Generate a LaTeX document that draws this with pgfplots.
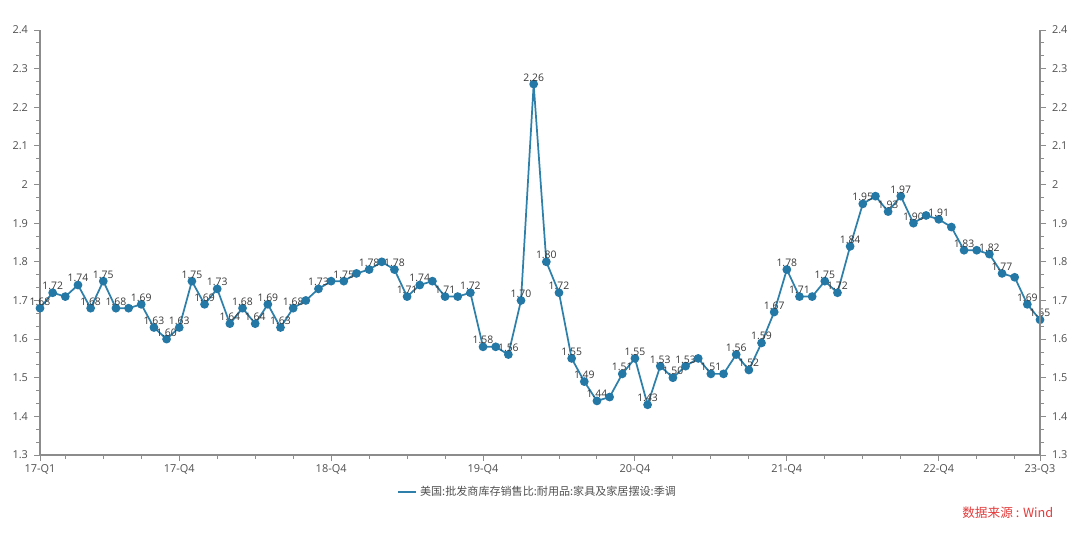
\documentclass[border=0pt]{standalone}
\usepackage{fontspec}
\setmainfont{Open Sans}
\newfontfamily\cjk{Noto Sans CJK SC}
\usepackage{pgfplots}
\usepackage{pgfplotstable}
\pgfplotsset{compat=1.18}

\definecolor{linec}{HTML}{2E80AB}
\definecolor{markc}{HTML}{2478A6}
\definecolor{axisc}{HTML}{8C8C8C}
\definecolor{tickc}{HTML}{505050}
\definecolor{labc}{HTML}{383838}
\definecolor{srcred}{HTML}{E23B3B}

% x = month index from 2017-01, lab = value label shown on the chart ({} = hidden)
\pgfplotstableread{
x y lab
0 1.68 1.68
1 1.72 1.72
2 1.71 {}
3 1.74 1.74
4 1.68 1.68
5 1.75 1.75
6 1.68 1.68
7 1.68 {}
8 1.69 1.69
9 1.63 1.63
10 1.60 1.60
11 1.63 1.63
12 1.75 1.75
13 1.69 1.69
14 1.73 1.73
15 1.64 1.64
16 1.68 1.68
17 1.64 1.64
18 1.69 1.69
19 1.63 1.63
20 1.68 1.68
21 1.70 {}
22 1.73 1.73
23 1.75 {}
24 1.75 1.75
25 1.77 {}
26 1.78 1.78
27 1.80 {}
28 1.78 1.78
29 1.71 1.71
30 1.74 1.74
31 1.75 {}
32 1.71 1.71
33 1.71 {}
34 1.72 1.72
35 1.58 1.58
36 1.58 {}
37 1.56 1.56
38 1.70 1.70
39 2.26 2.26
40 1.80 1.80
41 1.72 1.72
42 1.55 1.55
43 1.49 1.49
44 1.44 1.44
45 1.45 {}
46 1.51 1.51
47 1.55 1.55
48 1.43 1.43
49 1.53 1.53
50 1.50 1.50
51 1.53 1.53
52 1.55 {}
53 1.51 1.51
54 1.51 {}
55 1.56 1.56
56 1.52 1.52
57 1.59 1.59
58 1.67 1.67
59 1.78 1.78
60 1.71 1.71
61 1.71 {}
62 1.75 1.75
63 1.72 1.72
64 1.84 1.84
65 1.95 1.95
66 1.97 {}
67 1.93 1.93
68 1.97 1.97
69 1.90 1.90
70 1.92 {}
71 1.91 1.91
72 1.89 {}
73 1.83 1.83
74 1.83 {}
75 1.82 1.82
76 1.77 1.77
77 1.76 {}
78 1.69 1.69
79 1.65 1.65
}\ratio

\pgfplotsset{
  common/.style={
    at={(0,0)}, anchor=south west,
    scale only axis, width=750pt, height=318.75pt,
    xmin=0, xmax=79, ymin=1.3, ymax=2.4,
    ytick={1.3,1.4,1.5,1.6,1.7,1.8,1.9,2.0,2.1,2.2,2.3,2.4},
    minor y tick num=2,
    tick align=outside,
    major tick length=4.5pt, minor tick length=3pt,
    axis line style={axisc, line width=0.8pt},
    every tick/.style={axisc, line width=0.7pt},
    tick label style={font=\fontsize{8.2}{10}\selectfont, text=tickc},
    /pgf/number format/assume math mode=true,
    clip=false,
  },
}

\begin{document}
\begin{tikzpicture}
\begin{axis}[common,
    axis x line*=bottom, axis y line*=left,
    xtick={0,11,23,35,47,59,71,79},
    xticklabels={17-Q1,17-Q4,18-Q4,19-Q4,20-Q4,21-Q4,22-Q4,23-Q3},
    minor xtick={2,5,8,14,17,20,26,29,32,38,41,44,50,53,56,62,65,68,74,77},
    yticklabel style={xshift=-1pt},
    xticklabel style={yshift=1pt},
    legend style={at={(0.498,-0.087)}, anchor=center, draw=none, fill=none,
      font=\cjk\fontsize{8.3}{9}\selectfont, text=tickc, inner sep=0pt},
]
\addplot[linec, line width=1.3pt, mark=*, mark size=2.6pt,
    mark options={fill=markc, draw=markc},
    point meta=explicit symbolic,
    nodes near coords,
    nodes near coords style={font=\fontsize{7.8}{9}\selectfont, text=labc,
      anchor=south, inner sep=0.5pt, yshift=1pt},
    legend image code/.code={\draw[linec, line width=1.5pt] (0pt,0pt) -- (13.5pt,0pt);},
] table[x=x, y=y, meta=lab] {\ratio};
\addlegendentry{美国:批发商库存销售比:耐用品:家具及家居摆设:季调}
\node[anchor=east, text=srcred, font=\cjk\fontsize{9.5}{11}\selectfont]
  at (rel axis cs:1.018,-0.1365) {数据来源 : Wind};
\end{axis}
\begin{axis}[common,
    axis x line=none, axis y line*=right,
    yticklabel pos=right,
    yticklabel style={xshift=1pt},
]
\end{axis}
\pgfresetboundingbox
\useasboundingbox (-30pt,-57.75pt) rectangle (780pt,341.25pt);
\end{tikzpicture}
\end{document}
